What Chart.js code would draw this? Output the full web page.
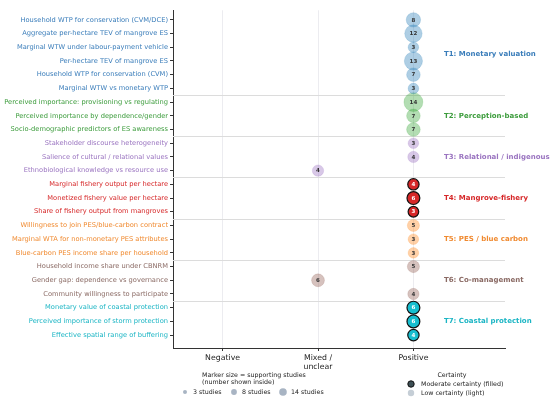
<!DOCTYPE html>
<html>
<head>
<meta charset="utf-8">
<script src="https://cdn.jsdelivr.net/npm/chart.js@4/dist/chart.umd.min.js"></script>
<style>
  html, body { margin: 0; padding: 0; background: #fff; }
  #wrap { width: 550px; height: 401px; }
</style>
</head>
<body>
<div id="wrap"><canvas id="evidenceChart"></canvas></div>
<script>
// Outcomes (top to bottom)
const outcomes = [
  "Household WTP for conservation (CVM/DCE)",
  "Aggregate per-hectare TEV of mangrove ES",
  "Marginal WTW under labour-payment vehicle",
  "Per-hectare TEV of mangrove ES",
  "Household WTP for conservation (CVM)",
  "Marginal WTW vs monetary WTP",
  "Perceived importance: provisioning vs regulating",
  "Perceived importance by dependence/gender",
  "Socio-demographic predictors of ES awareness",
  "Stakeholder discourse heterogeneity",
  "Salience of cultural / relational values",
  "Ethnobiological knowledge vs resource use",
  "Marginal fishery output per hectare",
  "Monetized fishery value per hectare",
  "Share of fishery output from mangroves",
  "Willingness to join PES/blue-carbon contract",
  "Marginal WTA for non-monetary PES attributes",
  "Blue-carbon PES income share per household",
  "Household income share under CBNRM",
  "Gender gap: dependence vs governance",
  "Community willingness to participate",
  "Monetary value of coastal protection",
  "Perceived importance of storm protection",
  "Effective spatial range of buffering"
];

// Theme index of each outcome
const outcomeTheme = [0, 0, 0, 0, 0, 0, 1, 1, 1, 2, 2, 2, 3, 3, 3, 4, 4, 4, 5, 5, 5, 6, 6, 6];

// Number of supporting studies
const studies = [8, 12, 3, 13, 7, 3, 14, 7, 7, 3, 4, 4, 4, 6, 3, 5, 3, 3, 5, 6, 4, 6, 6, 4];

// Direction of effect: 0 = Negative, 1 = Mixed / unclear, 2 = Positive
const direction = [2, 2, 2, 2, 2, 2, 2, 2, 2, 2, 2, 1, 2, 2, 2, 2, 2, 2, 2, 1, 2, 2, 2, 2];

const directionLabels = ["Negative", ["Mixed /", "unclear"], "Positive"];

const themes = [
  "T1: Monetary valuation",
  "T2: Perception-based",
  "T3: Relational / indigenous",
  "T4: Mangrove-fishery",
  "T5: PES / blue carbon",
  "T6: Co-management",
  "T7: Coastal protection"
];

// Certainty per theme
const themeCertainty = ["low", "low", "low", "moderate", "low", "low", "moderate"];

const legendSizes = [3, 8, 14];

// Styling
const themeColors = ["#1f77b4", "#2ca02c", "#9467bd", "#d62728", "#ff7f0e", "#8c564b", "#17becf"];
const tickColors = ["#3a7dba", "#3c9c3c", "#9a74c0", "#d62728", "#f08a30", "#8a6a64", "#1bb5c4"];
const lightFills = [
  "rgba(31,119,180,0.36)",
  "rgba(44,160,44,0.36)",
  "rgba(148,103,189,0.36)",
  "rgba(214,39,40,0.36)",
  "rgba(255,127,14,0.36)",
  "rgba(140,86,75,0.36)",
  "rgba(23,190,207,0.36)"
];
const lightBorders = [
  "rgba(31,119,180,0.22)",
  "rgba(44,160,44,0.22)",
  "rgba(148,103,189,0.22)",
  "rgba(214,39,40,0.22)",
  "rgba(255,127,14,0.22)",
  "rgba(140,86,75,0.22)",
  "rgba(23,190,207,0.22)"
];
const FONT = "DejaVu Sans";

function radiusFor(n) {
  return 4.15 + 0.38 * n;
}

// one bubble dataset per theme
const datasets = themes.map(function (theme, t) {
  const points = [];
  outcomes.forEach(function (name, i) {
    if (outcomeTheme[i] === t) {
      points.push({ x: direction[i], y: i, r: radiusFor(studies[i]), n: studies[i] });
    }
  });
  const filled = themeCertainty[t] === "moderate";
  return {
    label: theme,
    data: points,
    backgroundColor: filled ? themeColors[t] : lightFills[t],
    borderColor: filled ? "#111" : lightBorders[t],
    borderWidth: filled ? 1.2 : 0.8,
    hoverRadius: 0
  };
});

// rows where a new theme begins
const dividers = [];
for (let i = 1; i < outcomeTheme.length; i++) {
  if (outcomeTheme[i] !== outcomeTheme[i - 1]) dividers.push(i - 0.5);
}

const decorations = {
  id: "decorations",
  beforeDatasetsDraw: function (chart) {
    const ctx = chart.ctx;
    const area = chart.chartArea;
    const y = chart.scales.y;
    ctx.save();
    ctx.strokeStyle = "#dcdcdc";
    ctx.lineWidth = 1;
    dividers.forEach(function (v) {
      const py = Math.round(y.getPixelForValue(v)) + 0.5;
      ctx.beginPath();
      ctx.moveTo(area.left, py);
      ctx.lineTo(area.right, py);
      ctx.stroke();
    });
    ctx.restore();
  },
  afterDatasetsDraw: function (chart) {
    const ctx = chart.ctx;
    const xs = chart.scales.x;
    const ys = chart.scales.y;
    ctx.save();

    // numbers inside the bubbles
    ctx.textAlign = "center";
    ctx.textBaseline = "middle";
    ctx.font = "bold 5.5px '" + FONT + "'";
    chart.data.datasets.forEach(function (ds, t) {
      const meta = chart.getDatasetMeta(t);
      meta.data.forEach(function (el, j) {
        ctx.fillStyle = themeCertainty[t] === "moderate" ? "#fff" : "#333";
        ctx.fillText(String(ds.data[j].n), el.x, el.y + 0.3);
      });
    });

    // theme labels
    ctx.textAlign = "left";
    ctx.font = "bold 7px '" + FONT + "'";
    themes.forEach(function (theme, t) {
      const rows = [];
      outcomeTheme.forEach(function (v, i) { if (v === t) rows.push(i); });
      const mid = (rows[0] + rows[rows.length - 1]) / 2;
      ctx.fillStyle = tickColors[t];
      ctx.fillText(theme, xs.getPixelForValue(2.32), ys.getPixelForValue(mid));
    });

    // size legend
    ctx.font = "6.3px '" + FONT + "'";
    ctx.fillStyle = "#222";
    ctx.fillText("Marker size = supporting studies", 202, 375);
    ctx.fillText("(number shown inside)", 202, 382.5);
    const sizeX = [185, 234, 283];
    const sizeR = [2, 2.9, 3.8];
    legendSizes.forEach(function (n, k) {
      ctx.beginPath();
      ctx.arc(sizeX[k], 392, sizeR[k], 0, Math.PI * 2);
      ctx.fillStyle = "rgba(110,130,155,0.6)";
      ctx.fill();
      ctx.fillStyle = "#222";
      ctx.fillText(n + " studies", sizeX[k] + 8, 392.5);
    });

    // certainty legend
    ctx.textAlign = "center";
    ctx.fillText("Certainty", 452, 375);
    ctx.textAlign = "left";
    ctx.beginPath();
    ctx.arc(411, 384, 3.2, 0, Math.PI * 2);
    ctx.fillStyle = "#3d4f55";
    ctx.fill();
    ctx.strokeStyle = "#111";
    ctx.lineWidth = 1;
    ctx.stroke();
    ctx.beginPath();
    ctx.arc(411, 393, 3.2, 0, Math.PI * 2);
    ctx.fillStyle = "#c5ced6";
    ctx.fill();
    ctx.fillStyle = "#222";
    ctx.fillText("Moderate certainty (filled)", 421, 384.5);
    ctx.fillText("Low certainty (light)", 421, 393.5);

    ctx.restore();
  }
};

const chartCanvas = document.getElementById("evidenceChart");

new Chart(chartCanvas, {
  type: "bubble",
  data: { datasets: datasets },
  options: {
    responsive: true,
    maintainAspectRatio: false,
    animation: false,
    layout: { padding: { top: 0, right: 45, left: 0, bottom: 0 } },
    plugins: {
      legend: { display: false },
      tooltip: { enabled: false }
    },
    scales: {
      x: {
        type: "linear",
        min: -0.52,
        max: 2.96,
        afterBuildTicks: function (scale) {
          scale.ticks = directionLabels.map(function (l, i) { return { value: i }; });
        },
        afterFit: function (scale) { scale.height = 53; },
        ticks: {
          padding: 2,
          color: "#222",
          font: { family: FONT, size: 7.8 },
          callback: function (value) { return directionLabels[value]; }
        },
        grid: { color: "#ececf0", lineWidth: 1, tickColor: "#333", tickLength: 3 },
        border: { color: "#333", width: 1 }
      },
      y: {
        type: "linear",
        reverse: true,
        min: -0.7,
        max: 23.94,
        afterBuildTicks: function (scale) {
          scale.ticks = outcomes.map(function (o, i) { return { value: i }; });
        },
        afterFit: function (scale) { scale.width = 173; },
        ticks: {
          padding: 2,
          font: { family: FONT, size: 6.7 },
          color: function (ctx) {
            const i = ctx.tick ? ctx.tick.value : ctx.index;
            return tickColors[outcomeTheme[i]];
          },
          callback: function (value) { return outcomes[value]; }
        },
        grid: { drawOnChartArea: false, tickColor: "#333", tickLength: 3 },
        border: { color: "#333", width: 1 }
      }
    }
  },
  plugins: [decorations]
});
</script>
</body>
</html>
